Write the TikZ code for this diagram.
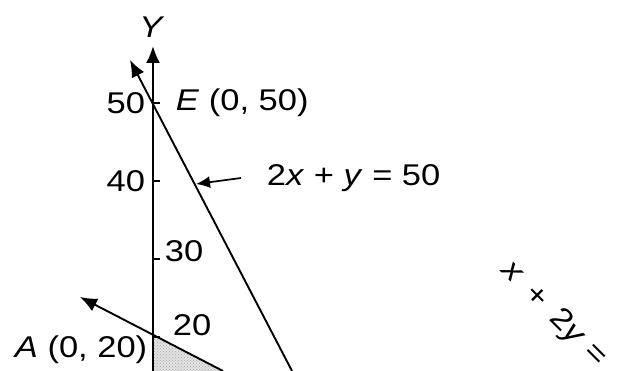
\documentclass[tikz,border=0pt]{standalone}
\usepackage{fontspec}
\setmainfont[FakeStretch=1.15]{Liberation Sans}
\usetikzlibrary{arrows.meta,patterns}
\begin{document}
\begin{tikzpicture}[x=1pt,y=-1pt,
  line width=1.9pt,
  lbl/.style={inner sep=0pt,font=\fontsize{30}{32}\selectfont},
  tip/.style={-{Latex[length=17pt,width=14pt]}},
  axis/.style={line width=2pt},
  tick/.style={line width=1.8pt}]
\useasboundingbox (0,0) rectangle (624,371);
% coordinates
\coordinate (ybot) at (153,371);
\coordinate (ytop) at (153,46);
\coordinate (E) at (153,103);
\coordinate (A) at (153,336);
\coordinate (lineBbot) at (292,371);
\coordinate (lineBtop) at (130,60);
\coordinate (lineAbot) at (223,371);
\coordinate (lineAtop) at (80,297);
% shaded region
\fill[gray!22] (A) -- (lineAbot) -- (ybot) -- cycle;
\fill[pattern=crosshatch dots, pattern color=gray!70] (A) -- (lineAbot) -- (ybot) -- cycle;
% axis
\draw[axis,tip] (ybot) -- (ytop);
\node[lbl] (ylab) at (152,27) {\textit{Y}};
% ticks
\foreach \yy in {103,181,259,337}
  \draw[tick] (153,\yy) -- (160,\yy);
\node[lbl,anchor=east] (l50) at (146,103) {50};
\node[lbl,anchor=east] (l40) at (146,181) {40};
\node[lbl,anchor=west] (l30) at (164,251) {30};
\node[lbl,anchor=west] (l20) at (172,325) {20};
\node[lbl,anchor=west] (Elab) at (175,103) {\textit{E} (0, 50)};
\node[lbl,anchor=west] (Alab) at (14,350) {\textit{A} (0, 20)};
% lines
\draw[tip] (lineBbot) -- (lineBtop);
\draw[tip] (lineAbot) -- (lineAtop);
% equation label for 2x+y=50
\node[lbl,anchor=west] (eqB) at (266,178) {2\textit{x} + \textit{y} = 50};
\coordinate (onB) at (196,184);
\draw[-{Latex[length=14pt,width=12pt]},line width=1.7pt] (eqB.west) ++(-25,0) -- (onB);
% rotated label
\node[lbl,anchor=west,rotate=-45] (eqA) at (505,266) {\textit{x}\, +\, 2\textit{y} =};
\end{tikzpicture}
\end{document}
